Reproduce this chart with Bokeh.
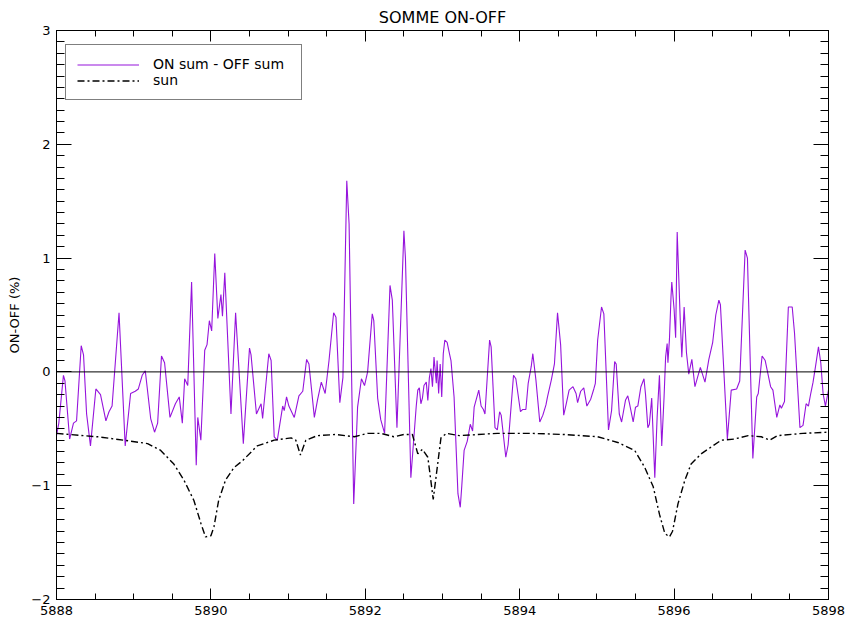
from bokeh.plotting import figure
from bokeh.models import (Range1d, LinearAxis, SingleIntervalTicker, Span,
                          Legend, LegendItem, BasicTickFormatter, CustomJSTickFormatter)
from bokeh.embed import file_html
from bokeh.resources import INLINE

# ---------------- data ----------------
wl_diff = [
    5888.00, 5888.03, 5888.09, 5888.11, 5888.17, 5888.22, 5888.26, 5888.32, 5888.35, 5888.39,
    5888.44, 5888.51, 5888.57, 5888.64, 5888.68, 5888.72, 5888.81, 5888.89, 5888.96, 5889.02,
    5889.06, 5889.11, 5889.15, 5889.22, 5889.27, 5889.31, 5889.36, 5889.40, 5889.47, 5889.54,
    5889.59, 5889.63, 5889.66, 5889.70, 5889.75, 5889.81, 5889.83, 5889.87, 5889.92, 5889.95,
    5889.98, 5890.01, 5890.05, 5890.09, 5890.13, 5890.15, 5890.18, 5890.26, 5890.32, 5890.42,
    5890.50, 5890.52, 5890.59, 5890.65, 5890.67, 5890.75, 5890.78, 5890.82, 5890.86, 5890.93,
    5890.95, 5890.98, 5891.01, 5891.08, 5891.14, 5891.19, 5891.24, 5891.27, 5891.34, 5891.38,
    5891.43, 5891.48, 5891.53, 5891.59, 5891.62, 5891.67, 5891.71, 5891.76, 5891.79, 5891.85,
    5891.90, 5891.95, 5891.99, 5892.03, 5892.09, 5892.11, 5892.16, 5892.20, 5892.25, 5892.32,
    5892.35, 5892.41, 5892.50, 5892.52, 5892.59, 5892.66, 5892.68, 5892.70, 5892.72, 5892.74,
    5892.76, 5892.79, 5892.81, 5892.83, 5892.85, 5892.87, 5892.89, 5892.92, 5892.93, 5892.95,
    5892.97, 5892.99, 5893.01, 5893.03, 5893.06, 5893.09, 5893.11, 5893.15, 5893.20, 5893.23,
    5893.25, 5893.28, 5893.32, 5893.36, 5893.39, 5893.41, 5893.47, 5893.50, 5893.53, 5893.55,
    5893.61, 5893.63, 5893.68, 5893.71, 5893.74, 5893.76, 5893.82, 5893.85, 5893.92, 5893.95,
    5894.01, 5894.04, 5894.08, 5894.11, 5894.15, 5894.17, 5894.21, 5894.26, 5894.30, 5894.34,
    5894.36, 5894.41, 5894.45, 5894.49, 5894.53, 5894.57, 5894.60, 5894.64, 5894.69, 5894.73,
    5894.75, 5894.79, 5894.83, 5894.87, 5894.92, 5894.96, 5894.98, 5895.01, 5895.06, 5895.09,
    5895.15, 5895.19, 5895.23, 5895.25, 5895.29, 5895.32, 5895.37, 5895.40, 5895.42, 5895.47,
    5895.50, 5895.53, 5895.57, 5895.61, 5895.63, 5895.66, 5895.68, 5895.71, 5895.75, 5895.78,
    5895.81, 5895.84, 5895.87, 5895.89, 5895.91, 5895.92, 5895.94, 5895.96, 5895.97, 5896.00,
    5896.02, 5896.04, 5896.08, 5896.10, 5896.13, 5896.16, 5896.19, 5896.23, 5896.27, 5896.34,
    5896.40, 5896.45, 5896.50, 5896.54, 5896.58, 5896.60, 5896.69, 5896.74, 5896.81, 5896.85,
    5896.92, 5896.95, 5897.02, 5897.07, 5897.09, 5897.14, 5897.18, 5897.25, 5897.28, 5897.33,
    5897.37, 5897.39, 5897.43, 5897.48, 5897.53, 5897.56, 5897.63, 5897.67, 5897.71, 5897.74,
    5897.77, 5897.80, 5897.83, 5897.87, 5897.90, 5897.93, 5897.96, 5898.00,
]
on_minus_off = [
    -0.56, -0.45, -0.03, -0.08, -0.59, -0.45, -0.43, 0.23, 0.15, -0.37,
    -0.65, -0.15, -0.20, -0.43, -0.35, -0.30, 0.52, -0.65, -0.19, -0.17,
    -0.15, -0.03, 0.01, -0.41, -0.53, -0.45, 0.14, 0.08, -0.40, -0.28,
    -0.22, -0.45, -0.06, -0.12, 0.79, -0.82, -0.40, -0.60, 0.19, 0.24,
    0.45, 0.36, 1.04, 0.47, 0.68, 0.49, 0.87, -0.37, 0.52, -0.63,
    0.21, 0.15, -0.37, -0.28, -0.41, 0.16, 0.10, -0.57, -0.60, -0.30,
    -0.34, -0.22, -0.30, -0.40, -0.21, -0.17, 0.11, 0.07, -0.40, -0.25,
    -0.09, -0.19, 0.10, 0.52, 0.48, -0.27, -0.05, 1.68, 1.30, -1.16,
    -0.31, -0.06, -0.12, 0.00, 0.51, 0.45, -0.23, -0.42, -0.54, 0.76,
    0.63, -0.49, 1.24, 1.00, -0.93, -0.30, -0.16, -0.14, -0.28, -0.23,
    -0.12, -0.09, -0.25, -0.05, 0.03, -0.13, 0.13, -0.10, 0.10, -0.19,
    0.07, -0.22, 0.16, 0.28, 0.26, 0.16, 0.10, -0.22, -1.07, -1.19,
    -1.00, -0.69, -0.61, -0.46, -0.52, -0.31, -0.16, -0.30, -0.33, -0.37,
    0.28, 0.22, -0.49, -0.51, -0.35, -0.38, -0.75, -0.64, -0.03, -0.06,
    -0.35, -0.33, -0.33, -0.10, 0.05, 0.16, -0.07, -0.44, -0.38, -0.29,
    -0.22, -0.07, 0.07, 0.52, 0.24, -0.38, -0.29, -0.16, -0.13, -0.19,
    -0.27, -0.17, -0.14, -0.30, -0.24, -0.15, -0.10, 0.28, 0.57, 0.51,
    -0.51, -0.34, 0.09, 0.07, -0.37, -0.44, -0.25, -0.21, -0.27, -0.44,
    -0.31, -0.30, -0.13, -0.06, -0.20, -0.49, -0.46, -0.23, -0.93, -0.40,
    -0.03, -0.65, -0.22, 0.13, 0.25, 0.08, 0.29, 0.66, 0.79, 0.55,
    0.30, 1.23, 0.45, 0.13, 0.57, 0.17, -0.02, 0.11, -0.13, 0.04,
    -0.09, 0.11, 0.26, 0.50, 0.63, 0.59, -0.59, -0.16, -0.15, -0.08,
    1.07, 1.00, -0.76, -0.22, -0.19, 0.14, 0.10, -0.13, -0.16, -0.40,
    -0.29, -0.32, -0.26, 0.57, 0.57, 0.34, -0.49, -0.47, -0.28, -0.30,
    -0.19, -0.09, 0.04, 0.22, 0.08, -0.19, -0.30, -0.16,
]

wl_sun = [
    5888.00, 5888.53, 5888.87, 5889.18, 5889.35, 5889.52, 5889.65, 5889.78, 5889.87, 5889.93,
    5890.00, 5890.04, 5890.10, 5890.19, 5890.30, 5890.41, 5890.60, 5890.82, 5891.04, 5891.10,
    5891.16, 5891.23, 5891.38, 5891.62, 5891.86, 5892.03, 5892.20, 5892.37, 5892.50, 5892.61,
    5892.68, 5892.74, 5892.81, 5892.88, 5892.93, 5892.98, 5893.05, 5893.22, 5893.71, 5894.15,
    5894.58, 5895.01, 5895.27, 5895.49, 5895.62, 5895.73, 5895.81, 5895.88, 5895.94, 5895.98,
    5896.05, 5896.14, 5896.22, 5896.35, 5896.48, 5896.61, 5896.78, 5896.96, 5897.13, 5897.24,
    5897.34, 5897.67, 5898.00,
]
sun = [
    -0.54, -0.57, -0.60, -0.63, -0.69, -0.81, -0.95, -1.13, -1.33, -1.45,
    -1.44, -1.36, -1.13, -0.95, -0.84, -0.78, -0.65, -0.60, -0.58, -0.60,
    -0.73, -0.60, -0.56, -0.55, -0.57, -0.54, -0.54, -0.57, -0.55, -0.55,
    -0.72, -0.68, -0.75, -1.12, -0.85, -0.58, -0.54, -0.56, -0.54, -0.54,
    -0.55, -0.57, -0.62, -0.69, -0.84, -1.01, -1.25, -1.42, -1.45, -1.40,
    -1.16, -0.95, -0.81, -0.72, -0.66, -0.60, -0.59, -0.56, -0.57, -0.60,
    -0.56, -0.54, -0.53,
]

title_text = "SOMME ON-OFF"
y_label = "ON-OFF (%)"
label_diff = "ON sum - OFF sum"
label_sun = "sun"
x_start, x_end = 5888, 5898
y_start, y_end = -2, 3

# ---------------- figure ----------------
FONT = "DejaVu Sans"
p = figure(width=845, height=621, output_backend="svg", toolbar_location=None,
           x_range=Range1d(x_start, x_end), y_range=Range1d(y_start, y_end),
           min_border_left=56, min_border_right=17, min_border_top=30,
           min_border_bottom=22, title=title_text)
p.grid.visible = False
p.background_fill_color = "white"
p.border_fill_color = "white"
p.outline_line_color = "black"

p.title.align = "center"
p.title.text_font = FONT
p.title.text_font_size = "16px"
p.title.text_font_style = "normal"
p.title.text_color = "black"
p.title.standoff = 7


def style_axis(ax, major_len, minor_len, show_labels):
    ax.axis_line_color = "black"
    ax.major_tick_line_color = "black"
    ax.minor_tick_line_color = "black"
    ax.major_tick_in = major_len
    ax.major_tick_out = 0
    ax.minor_tick_in = minor_len
    ax.minor_tick_out = 0
    ax.major_label_text_font = FONT
    ax.major_label_text_color = "black"
    ax.major_label_text_font_size = "13px"
    if not show_labels:
        ax.formatter = CustomJSTickFormatter(code="return ''")
        ax.major_label_standoff = 0


xt = SingleIntervalTicker(interval=2, num_minor_ticks=4)
yt = SingleIntervalTicker(interval=1, num_minor_ticks=10)

xb = p.xaxis[0]
xb.ticker = xt
xb.formatter = BasicTickFormatter(use_scientific=False)
style_axis(xb, 11, 6, True)
xb.major_label_standoff = 6

yl = p.yaxis[0]
yl.ticker = yt
style_axis(yl, 15, 8, True)
yl.major_label_standoff = 6
yl.axis_label = y_label
yl.axis_label_text_font = FONT
yl.axis_label_text_font_size = "13px"
yl.axis_label_text_font_style = "normal"
yl.axis_label_text_color = "black"
yl.axis_label_standoff = 6

xtop = LinearAxis(ticker=SingleIntervalTicker(interval=2, num_minor_ticks=4))
style_axis(xtop, 11, 6, False)
p.add_layout(xtop, "above")
yright = LinearAxis(ticker=SingleIntervalTicker(interval=1, num_minor_ticks=10))
style_axis(yright, 15, 8, False)
p.add_layout(yright, "right")

# zero line
p.add_layout(Span(location=0, dimension="width", line_color="black", line_width=1))

r_diff = p.line(wl_diff, on_minus_off, line_color="#9614DC", line_width=1.1)
r_sun = p.line(wl_sun, sun, line_color="black", line_width=1.4, line_dash="7 3 2 3")

legend = Legend(items=[LegendItem(label=label_diff, renderers=[r_diff]),
                       LegendItem(label=label_sun, renderers=[r_sun])],
                location=(9, 499), margin=0, padding=11, spacing=0,
                glyph_width=62, glyph_height=15, label_height=15,
                label_width=137, label_standoff=14, label_text_font=FONT,
                label_text_font_size="14px", label_text_color="black",
                border_line_color="black", border_line_width=1,
                background_fill_color="white", background_fill_alpha=1.0)
p.add_layout(legend, "center")

open("out.html", "w").write(file_html(p, INLINE))
